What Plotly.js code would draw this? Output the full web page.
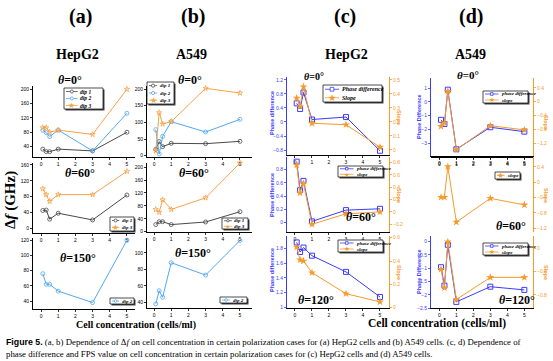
<!DOCTYPE html>
<html><head><meta charset="utf-8">
<script src="https://cdn.plot.ly/plotly-3.0.1.min.js"></script>
<style>html,body{margin:0;padding:0;background:#fff}</style>
</head><body><div id="chart" style="width:553px;height:361px"></div>
<script>
// ---------------- DATA ----------------
const conc = [0.1, 0.3, 0.5, 1, 3, 5];          // cells/ml
const xTicks = [0, 1, 2, 3, 4, 5];
// (a) HepG2, Δf (GHz)
const a0Dip1 = [33, 26, 26, 33, 28, 80];
const a0Dip2 = [86, 79, 68, 86, 28, 133];
const a0Dip3 = [93, 93, 80, 86, 74, 200];
const a60Dip1 = [45, 46, 23, 38, 21, 84];
const a60Dip3 = [100, 85, 68, 85, 85, 144];
const a150Dip2 = [76, 62, 62, 53, 38, 120];
// (b) A549, Δf (GHz)
const b0Dip1 = [19, 42, 27, 37, 36, 43];
const b0Dip2 = [78, 5, 58, 102, 71, 109];
const b0Dip3 = [14, 129, 95, 102, 202, 188];
const b60Dip1 = [22, 31, 31, 22, 30, 62];
const b60Dip3 = [69, 60, 99, 69, 105, 213];
const b150Dip2 = [38, 54, 46, 88, 73, 115];
// (c) HepG2, phase difference and slope
const c0Phase = [0.53, 0.37, 0.84, 0.07, 0.14, -0.82];
const c0Slope = [0.37, 0.31, 0.45, 0.19, 0.18, 0.02];
const c60Phase = [0.92, 0.49, 0.63, 0.02, 0.19, 0.21];
const c60Slope = [0.76, 0.31, 0.46, -0.20, -0.03, 0.00];
const c120Phase = [1.88, 1.75, 1.81, 1.70, 1.48, 1.14];
const c120Slope = [0.52, 0.41, 0.40, 0.30, 0.12, 0.05];
// (d) A549, phase difference and slope
const d0Phase = [-1.31, -1.61, 0.88, -3.45, -1.85, -2.17];
const d0Slope = [-0.71, -0.61, 0.30, -1.38, -0.69, -0.81];
const d60Slope = [-0.39, -0.39, 0.41, -1.04, -0.42, -0.59];
const d120Phase = [-0.96, -1.65, -0.12, -2.26, -1.69, -1.81];
const d120Slope = [-0.36, -0.68, 0.11, -0.88, -0.50, -0.50];

// ---------------- STYLE / LAYOUT ----------------
const W = 553, H = 361;
const px = x => x / W, py = y => 1 - y / H;
const COL = {dip1: '#4a4a4a', dip2: '#52a8f2', dip3: '#f7a24a', phase: '#3b3bff', slope: '#f79a2c'};
const SERIF = 'Liberation Serif, DejaVu Serif, serif';
const SANS = 'Liberation Sans, Arial, sans-serif';

const traces = [];
const layout = {
  width: W, height: H, margin: {l: 0, r: 0, t: 0, b: 0},
  paper_bgcolor: '#fff', plot_bgcolor: 'rgba(0,0,0,0)', showlegend: false,
  shapes: [], annotations: []
};

function xAxis(box, range, anchor) {
  return {domain: [px(box[0]), px(box[1])], range: range, anchor: anchor, showgrid: false, zeroline: false,
    showline: true, linecolor: '#000', linewidth: 1, ticks: 'outside', ticklen: 2, tickwidth: 0.8,
    tickcolor: '#000', tickvals: xTicks, tickfont: {size: 5, family: SANS, color: '#000'}};
}
function yAxis(box, range, anchor, dtick, color, showlabels) {
  return {domain: [py(box[3]), py(box[2])], range: range, anchor: anchor, showgrid: false, zeroline: false,
    showline: true, linecolor: color, linewidth: 1, ticks: 'outside', ticklen: 2, tickwidth: 0.8,
    tickcolor: color, dtick: dtick, tick0: 0, showticklabels: showlabels !== false,
    tickfont: {size: 5, family: SANS, color: color}};
}

// panels: pixel boxes [x0,x1,yTop,yBottom]
const panels = [
  {box: [33, 135, 86, 157], xr: [-0.47, 5.47], yr: [11, 209], dt: 40,
   series: [[a0Dip1, 'dip1', 'circle-open'], [a0Dip2, 'dip2', 'circle-open'], [a0Dip3, 'dip3', 'star-open']]},
  {box: [33, 135, 163, 233], xr: [-0.47, 5.47], yr: [-12, 165], dt: 40,
   series: [[a60Dip1, 'dip1', 'circle-open'], [a60Dip3, 'dip3', 'star-open']]},
  {box: [33, 135, 238, 309], xr: [-0.47, 5.47], yr: [29.5, 123], dt: 20,
   series: [[a150Dip2, 'dip2', 'circle-open']]},
  {box: [147, 252, 86, 157], xr: [-0.41, 5.7], yr: [-4, 209], dt: 50,
   series: [[b0Dip1, 'dip1', 'circle-open'], [b0Dip2, 'dip2', 'circle-open'], [b0Dip3, 'dip3', 'star-open']]},
  {box: [147, 252, 163, 232], xr: [-0.41, 5.7], yr: [-1, 213], dt: 40,
   series: [[b60Dip1, 'dip1', 'circle-open'], [b60Dip3, 'dip3', 'star-open']]},
  {box: [147, 252, 238, 308], xr: [-0.41, 5.7], yr: [33, 118], dt: 20,
   series: [[b150Dip2, 'dip2', 'circle-open']]},
];
const dual = [
  {box: [287, 389, 77, 155], xr: [-0.47, 5.53], yl: [-0.94, 1.28], dl: 0.4, yrr: [-0.036, 0.52], dr: 0.1,
   phase: c0Phase, slope: c0Slope},
  {box: [287, 389, 157, 231.7], xr: [-0.47, 5.53], yl: [-0.135, 0.99], dl: 0.2, yrr: [-0.32, 0.89], dr: 0.2,
   phase: c60Phase, slope: c60Slope},
  {box: [287, 389, 236, 308.3], xr: [-0.47, 5.53], yl: [0.986, 1.967], dl: 0.2, yrr: [-0.005, 0.614], dr: 0.2,
   phase: c120Phase, slope: c120Slope},
  {box: [431, 533, 78, 156], xr: [-0.49, 5.51], yl: [-3.94, 1.73], dl: 1, yrr: [-1.56, 0.68], dr: 0.4,
   phase: d0Phase, slope: d0Slope},
  {box: [431, 533, 157, 231.7], xr: [-0.49, 5.51], yl: [0, 1], dl: 0.5, yrr: [-1.29, 0.66], dr: 0.4,
   phase: null, slope: d60Slope, noLeftLabels: true},
  {box: [431, 533, 236, 308.3], xr: [-0.49, 5.51], yl: [-2.5, 0.21], dl: 0.5, yrr: [-1.03, 0.21], dr: 0.4,
   phase: d120Phase, slope: d120Slope},
];

let n = 0;
panels.forEach(p => {
  n++;
  const xs = 'x' + n, ys = 'y' + n;
  layout['xaxis' + n] = xAxis(p.box, p.xr, ys);
  layout['yaxis' + n] = yAxis(p.box, p.yr, xs, p.dt, '#000');
  p.series.forEach(s => {
    traces.push({x: conc, y: s[0], xaxis: xs, yaxis: ys, type: 'scatter', mode: 'lines+markers', cliponaxis: false,
      line: {color: COL[s[1]], width: 1}, marker: {symbol: s[2], size: 4, color: COL[s[1]], line: {width: 0.8, color: COL[s[1]]}}});
  });
});
let sec = 12;
dual.forEach(p => {
  n++; sec++;
  const xs = 'x' + n, ys = 'y' + n, ys2 = 'y' + sec;
  layout['xaxis' + n] = xAxis(p.box, p.xr, ys);
  layout['yaxis' + n] = yAxis(p.box, p.yl, xs, p.dl, COL.phase, !p.noLeftLabels);
  const r = yAxis(p.box, p.yrr, xs, p.dr, COL.slope);
  r.overlaying = ys; r.side = 'right';
  layout['yaxis' + sec] = r;
  if (p.phase) traces.push({x: conc, y: p.phase, xaxis: xs, yaxis: ys, type: 'scatter', mode: 'lines+markers', cliponaxis: false,
    line: {color: COL.phase, width: 1}, marker: {symbol: 'square-open', size: 5, color: COL.phase, line: {width: 1, color: COL.phase}}});
  traces.push({x: conc, y: p.slope, xaxis: xs, yaxis: ys2, type: 'scatter', mode: 'lines+markers', cliponaxis: false,
    line: {color: COL.slope, width: 1}, marker: {symbol: 'star', size: 6, color: COL.slope}});
});

// ---------------- TEXT ----------------
function ann(text, x, y, size, o) {
  o = o || {};
  layout.annotations.push(Object.assign({text: text, x: px(x), y: py(y), xref: 'paper', yref: 'paper', showarrow: false,
    xanchor: 'center', yanchor: 'middle', borderpad: 0,
    font: {family: o.family || SERIF, size: size, color: o.color || '#000'}}, o.extra || {}));
}
ann('<b>(a)</b>', 80, 17, 20); ann('<b>(b)</b>', 193, 17, 20);
ann('<b>(c)</b>', 345, 17, 20); ann('<b>(d)</b>', 471, 17, 20);
ann('<b>HepG2</b>', 77, 55, 14); ann('<b>A549</b>', 191, 55, 14);
ann('<b>HepG2</b>', 346, 55, 14); ann('<b>A549</b>', 470, 55, 14);
ann('<b>Δ<i>f</i> (GHz)</b>', 10, 200, 15, {extra: {textangle: -90}});
const th = (s) => '<b><i>θ</i>=' + s + '°</b>';
ann(th('0'), 70, 80, 12); ann(th('0'), 190, 80, 12);
ann(th('60'), 80, 173, 12); ann(th('60'), 194, 173, 12);
ann(th('150'), 78, 258, 12); ann(th('150'), 193, 253, 12);
ann(th('0'), 314, 77, 10); ann(th('60'), 361, 217, 12); ann(th('120'), 316, 300, 12);
ann(th('0'), 468, 75, 11); ann(th('60'), 511, 226, 12); ann(th('120'), 517, 300, 12);
[113, 195, 270].forEach(y => ann('<b>Phase difference</b>', 272, y, 5.5, {color: COL.phase, family: SANS, extra: {textangle: -90}}));
[117, 195, 272].forEach(y => ann('<b>Slope</b>', 399, y, 5.5, {color: COL.slope, family: SANS, extra: {textangle: 90}}));
[117, 272].forEach(y => ann('<b>Phase Difference</b>', 419, y, 5.5, {color: COL.phase, family: SANS, extra: {textangle: -90}}));
[122, 195, 272].forEach(y => ann('<b>Slope</b>', 546, y, 5.5, {color: COL.slope, family: SANS, extra: {textangle: 90}}));
ann('<b>Cell concentration (cells/ml)</b>', 136, 324.5, 10);
ann('<b>Cell concentration (cells/ml)</b>', 437, 323.5, 11.5);
ann('<b><span style="font-family:Liberation Sans">Figure 5.</span></b> (a, b) Dependence of Δ<i>f</i> on cell concentration in certain polarization cases for (a) HepG2 cells and (b) A549 cells. (c, d) Dependence of',
  5, 342, 8.8, {extra: {xanchor: 'left'}});
ann('phase difference and FPS value on cell concentration in certain polarization cases for (c) HepG2 cells and (d) A549 cells.',
  5, 353.5, 8.8, {extra: {xanchor: 'left'}});

// ---------------- LEGENDS (drawn as boxes) ----------------
function rectP(x0, y0, x1, y1, fill, line, lw) {
  layout.shapes.push({type: 'rect', xref: 'paper', yref: 'paper', x0: px(x0), x1: px(x1), y0: py(y1), y1: py(y0),
    fillcolor: fill, line: {color: line, width: lw}, layer: 'above'});
}
function legendBox(x, y, w, h, items, fs, family) {
  rectP(x + 1.5, y + 1.5, x + w + 1.5, y + h + 1.5, '#444', '#444', 0);
  rectP(x, y, x + w, y + h, '#fff', '#000', 0.7);
  const rh = h / items.length, sw = Math.min(14, w * 0.3);
  items.forEach((it, i) => {
    const cy = y + rh * (i + 0.5);
    layout.shapes.push({type: 'line', xref: 'paper', yref: 'paper', x0: px(x + 2), x1: px(x + 2 + sw), y0: py(cy), y1: py(cy),
      line: {color: COL[it[1]], width: 0.8}, layer: 'above'});
    const cx = x + 2 + sw / 2, r = Math.max(1, rh * 0.22);
    if (it[2] === 'star') ann('★', cx, cy, Math.max(5, rh * 1.1), {color: COL[it[1]], family: 'DejaVu Sans'});
    else layout.shapes.push({type: it[2] === 'square' ? 'rect' : 'circle', xref: 'paper', yref: 'paper',
      x0: px(cx - r), x1: px(cx + r), y0: py(cy + r), y1: py(cy - r), fillcolor: '#fff',
      line: {color: COL[it[1]], width: 0.8}, layer: 'above'});
    ann('<b><i>' + it[0] + '</i></b>', x + 3.5 + sw, cy, fs, {family: family || SERIF, extra: {xanchor: 'left'}});
  });
}
const L3 = [['dip 1', 'dip1', 'circle'], ['dip 2', 'dip2', 'circle'], ['dip 3', 'dip3', 'star']];
const L13 = [['dip 1', 'dip1', 'circle'], ['dip 3', 'dip3', 'star']];
const L2 = [['dip 2', 'dip2', 'circle']];
legendBox(64, 88, 39, 21, L3, 5.5);
legendBox(147, 82, 27, 22, L3, 5);
legendBox(110, 217, 24, 14, L13, 5);
legendBox(222, 218, 26, 11, L13, 5);
legendBox(110, 298, 24, 6, L2, 5);
legendBox(220, 297, 27, 6, L2, 5);
const PS = (a, b) => [[a, 'phase', 'square'], [b, 'slope', 'star']];
legendBox(323, 85, 59, 17, PS('Phase difference', 'Slope'), 6);
legendBox(338, 166, 45, 11, PS('phase difference', 'slope'), 5);
legendBox(338, 240, 45, 12, PS('phase difference', 'slope'), 5);
legendBox(483, 91, 45, 12, PS('phase difference', 'slope'), 5);
legendBox(495, 172, 25, 7, [['slope', 'slope', 'star']], 5);
legendBox(483, 243, 45, 12, PS('phase difference', 'slope'), 5);

Plotly.newPlot('chart', traces, layout, {staticPlot: true, displayModeBar: false});
</script></body></html>
